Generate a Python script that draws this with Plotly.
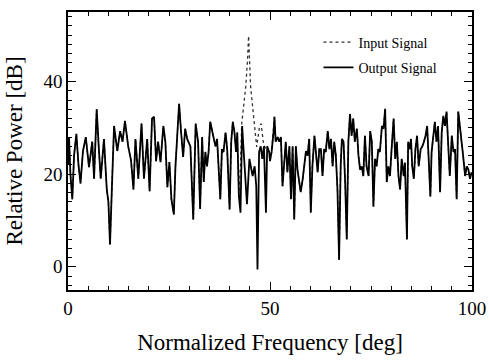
import plotly.graph_objects as go

# Output signal (solid) — normalized frequency [deg] and relative power [dB]
freq = [0.0, 0.25, 0.6, 1.07, 1.5, 2.07, 2.6, 3.1, 3.7, 4.4, 5.2, 6.0, 6.45, 7.1, 7.6, 8.1, 8.9, 9.6, 10.0, 10.4,
        10.9, 11.4, 12.2, 12.9, 13.5, 14.1, 14.9, 15.6, 16.2, 16.7, 17.4, 18.2, 18.8, 19.6, 20.2, 20.8, 21.3, 21.8,
        22.3, 22.9, 23.6, 24.1, 24.6, 25.1, 25.6, 26.2, 26.6, 27.5, 28.0, 28.5, 29.0, 29.5, 30.3, 31.0, 31.6, 32.2,
        32.7, 33.2, 33.6, 34.0, 34.4, 34.8, 35.2, 35.7, 36.1, 36.5, 36.9, 37.3, 37.7, 38.1, 38.5, 39.0, 39.4, 40.0,
        40.4, 40.8, 41.2, 41.6, 41.9, 42.3, 42.7, 43.1, 43.5, 43.9, 44.3, 44.9, 45.3, 45.7, 46.2, 46.6, 46.9, 47.3,
        47.7, 48.1, 48.5, 49.0, 49.3, 49.8, 50.0, 50.4, 50.9, 51.1, 51.4, 51.9, 52.3, 52.7, 53.1, 53.5, 53.9, 54.3,
        54.8, 55.2, 55.6, 56.0, 56.4, 56.8, 57.2, 57.6, 58.1, 58.5, 58.9, 59.3, 59.7, 60.1, 60.5, 61.0, 61.4, 61.8,
        62.2, 62.6, 63.0, 63.4, 63.8, 64.3, 64.7, 65.1, 65.5, 65.9, 66.3, 66.7, 67.1, 67.5, 67.8, 68.2, 68.6, 69.0,
        69.4, 69.8, 70.2, 70.6, 71.0, 71.5, 71.9, 72.3, 72.7, 73.1, 73.5, 73.9, 74.4, 74.8, 75.2, 75.6, 76.0, 76.4,
        76.8, 77.2, 77.7, 78.1, 78.5, 78.9, 79.3, 79.7, 80.1, 80.6, 81.0, 81.4, 81.8, 82.2, 82.6, 83.1, 83.4, 83.9,
        84.2, 84.6, 84.9, 85.2, 85.6, 86.0, 86.4, 86.8, 87.3, 87.7, 88.1, 88.5, 88.9, 89.3, 89.7, 90.0, 90.4, 90.8,
        91.2, 91.6, 92.1, 92.5, 92.9, 93.3, 93.7, 94.1, 94.5, 95.0, 95.4, 95.8, 96.2, 96.6, 97.0, 97.4, 97.8, 98.3,
        98.7, 99.1, 99.5, 99.9]
output_db = [22, 28, 20, 14.6, 24, 28.7, 22, 18, 25, 28, 21.5, 27, 19, 34, 26, 19, 27.6, 16.7, 14, 4.8,
             18, 30.4, 25, 29.3, 27, 31.5, 26, 23, 16.7, 27.6, 19, 30.9, 19, 27.6, 16.3, 32, 32.4, 22.8,
             27, 22.6, 30.4, 27, 17.2, 22.6, 14.6, 11.3, 21.7, 35.2, 29, 23.7, 29.8, 27.6, 26, 10.2, 30.9, 27,
             12.5, 28, 18.3, 24.8, 21.7, 24.8, 31.3, 29, 27.6, 26, 27.6, 21.7, 14.6, 25.4, 24.8, 29, 25.4, 12.4,
             27, 31.3, 29, 24.8, 29, 15.2, 11.7, 30.4, 24.8, 20.4, 13.5, 23.3, 21, 19.6, 21.7, 17.4, -0.6, 24.8,
             26, 23.3, 26, 11.7, 26, 24.8, 22.8, 24.8, 29.3, 32.4, 27, 28, 27, 28, 17.4, 21.7, 27, 20.4,
             26, 14.6, 26, 10.2, 26, 21, 19, 16.1, 19, 21.7, 25, 24, 27.6, 11.7, 21.7, 28.3, 24.8, 20.4,
             25.4, 25.4, 19.6, 25.4, 24.8, 29.3, 25.4, 27.6, 21.7, 27, 24, 16.7, 1.5, 22, 27.6, 27, 18.3, 5.9,
             27, 33, 28.3, 32, 27, 29.8, 24, 21, 21.7, 19.6, 28.3, 21.7, 19.6, 29.3, 27, 13, 23.3, 21.7,
             25.4, 24.8, 30.4, 29.8, 34.1, 18.3, 21.7, 19.6, 25.4, 32, 23.3, 27, 19.6, 16.7, 23.3, 19.6, 22.5, 5.9,
             27, 25.4, 27.6, 21.7, 19, 25.4, 28.3, 21.7, 25.4, 26, 27, 28.3, 30.4, 23.3, 15.2, 24.8, 29, 31.3,
             27, 30.4, 16.1, 29, 32.6, 30.4, 33.5, 24.8, 19.6, 28.3, 24.8, 25.4, 14.6, 33.5, 29.8, 27.6, 24, 19.6,
             21.7, 21, 19, 20.4]

# Input signal (dotted): follows the output except around the signal peak
input_peak_freq = [42.7, 43.0, 43.4, 44.0, 44.4, 44.7, 45.2, 45.9, 46.3, 46.7, 47.4, 47.8, 48.4, 49.2]
input_peak_db = [22, 30.9, 33.7, 38.9, 44, 49.8, 38.9, 32.4, 29, 25.9, 30.2, 30.9, 26.5, 25]

input_freq = [f for f in freq if f < 42.5] + input_peak_freq + [f for f in freq if f > 49.5]
input_db = ([v for f, v in zip(freq, output_db) if f < 42.5] + input_peak_db
            + [v for f, v in zip(freq, output_db) if f > 49.5])

x_ticks = [0, 50, 100]
y_ticks = [0, 20, 40]

SERIF = "Liberation Serif, Times New Roman, serif"

fig = go.Figure()
fig.add_trace(go.Scatter(x=input_freq, y=input_db, mode="lines", name="Input Signal",
                         legendgroup="a",
                         line=dict(color="#333333", width=1.3, dash="dot")))
fig.add_trace(go.Scatter(x=freq, y=output_db, mode="lines", name="Output Signal",
                         legendgroup="b",
                         line=dict(color="black", width=1.8)))

axis_common = dict(showline=True, linecolor="black", linewidth=1.5, mirror="allticks",
                   ticks="inside", tickcolor="black", tickwidth=1.3, ticklen=8,
                   showgrid=False, zeroline=False,
                   tickfont=dict(family=SERIF, size=19, color="black"))

fig.update_xaxes(range=[0, 100], tickvals=x_ticks, ticktext=[str(t) for t in x_ticks],
                 minor=dict(dtick=5, tick0=0, ticks="inside", ticklen=4, tickcolor="black", tickwidth=1.1),
                 title=dict(text="Normalized Frequency [deg]", standoff=16,
                            font=dict(family=SERIF, size=23, color="black")),
                 **axis_common)
fig.update_yaxes(range=[-5, 55], tickvals=y_ticks, ticktext=[str(t) for t in y_ticks],
                 minor=dict(dtick=2, tick0=0, ticks="inside", ticklen=4, tickcolor="black", tickwidth=1.1),
                 title=dict(text="Relative Power [dB]", standoff=14,
                            font=dict(family=SERIF, size=23, color="black")),
                 **axis_common)

fig.update_layout(
    width=490, height=361,
    margin=dict(l=68, r=18, t=12, b=71, autoexpand=False),
    paper_bgcolor="white", plot_bgcolor="white",
    showlegend=True,
    legend=dict(x=0.62, y=0.845, xanchor="left", yanchor="middle",
                bgcolor="rgba(0,0,0,0)", borderwidth=0,
                traceorder="grouped", tracegroupgap=4,
                font=dict(family=SERIF, size=14, color="black")),
)

fig.write_html("out.html")
